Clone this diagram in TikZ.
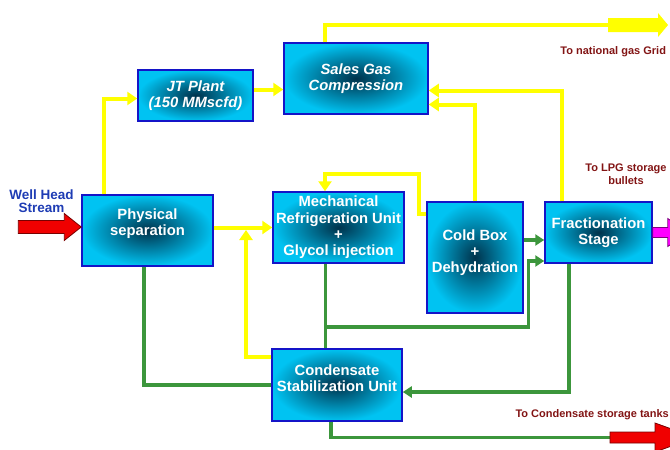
\documentclass[tikz,border=0pt]{standalone}
\usepackage{fontspec}
\setmainfont{Liberation Sans}
\usetikzlibrary{arrows.meta,positioning}
\definecolor{plblue}{RGB}{20,20,200}
\definecolor{plcyan}{RGB}{0,195,242}
\definecolor{pldark}{RGB}{0,50,75}
\definecolor{plyellow}{RGB}{255,255,0}
\definecolor{plgreen}{RGB}{60,150,60}
\definecolor{plred}{RGB}{240,0,0}
\definecolor{plbrown}{RGB}{130,20,20}
\definecolor{plnavy}{RGB}{30,60,180}
\definecolor{plmagenta}{RGB}{255,0,255}

\begin{document}
\begin{tikzpicture}[x=1pt,y=-1pt,
  unit/.style={draw=plblue, line width=1.5pt, inner color=pldark, outer color=plcyan,
    text=white, align=center, inner sep=1pt, font=\bfseries\fontsize{14.8}{16.3}\selectfont},
  unitit/.style={unit, font=\bfseries\itshape\fontsize{14.8}{16.3}\selectfont},
  gas/.style={plyellow, line width=4pt, -{Triangle[length=10pt,width=13pt]}},
  liq/.style={plgreen, line width=3.5pt, -{Triangle[length=9pt,width=11pt]}},
  note/.style={plbrown, font=\bfseries\fontsize{11}{13}\selectfont, align=center}]
  \useasboundingbox (0,0) rectangle (670,450);

  % Process units
  \node[unit, minimum width=131pt, minimum height=71pt, text depth=17pt] (phys) at (147.5,230.5) {Physical\\separation};
  \node[unitit, minimum width=115pt, minimum height=51pt] (jt) at (195.5,95.5) {JT Plant\\(150 MMscfd)};
  \node[unitit, minimum width=144pt, minimum height=71pt] (sales) at (356,78.5) {Sales Gas\\Compression};
  \node[unit, minimum width=131pt, minimum height=71pt] (mech) at (338.5,227.5) {Mechanical\\Refrigeration Unit\\+\\Glycol injection};
  \node[unit, minimum width=96pt, minimum height=111pt, text depth=13pt] (cold) at (475,257.5) {Cold Box\\+\\Dehydration};
  \node[unit, minimum width=107pt, minimum height=61pt] (frac) at (598.5,232.5) {Fractionation\\Stage};
  \node[unit, minimum width=130pt, minimum height=72pt, text depth=14pt] (cond) at (337,385) {Condensate\\Stabilization Unit};

  % Labels
  \node[plnavy, font=\bfseries\fontsize{13.5}{13}\selectfont, align=center] (well) at (41.5,201) {Well Head\\Stream};
  \node[note, anchor=east] (grid) at (669.5,52) {To national gas Grid};
  \node[note] (lpg) at (626,174) {To LPG storage\\bullets};
  \node[note, anchor=west] (tanks) at (512,415) {To Condensate storage tanks};

  % Feed and product arrows
  \filldraw[fill=plred, draw=plred!50!black, line width=0.8pt] ([yshift=3.5pt]phys.west) -- ++(-17,-13.5) -- ++(0,7) -- ++(-46,0) -- ++(0,13) -- ++(46,0) -- ++(0,7) -- cycle;
  \coordinate (togrid) at (608,25);
  \draw[gas, -] ([xshift=-31pt]sales.north) |- (togrid);
  \fill[plyellow] (togrid) ++(0,-7) -- ++(50,0) -- ++(0,-5) -- ++(10,12) -- ++(-10,12) -- ++(0,-5) -- ++(-50,0) -- cycle;
  \coordinate (totanks) at (610,437.5);
  \draw[liq, -] ([xshift=-6pt]cond.south) |- (totanks);
  \filldraw[fill=plred, draw=plred!50!black, line width=0.8pt] (totanks) ++(0,-5.5) -- ++(45,0) -- ++(0,-9) -- ++(40,14.5) -- ++(-40,14.5) -- ++(0,-9) -- ++(-45,0) -- cycle;
  \filldraw[fill=plmagenta, draw=plmagenta!50!black, line width=0.8pt] ([yshift=5pt]frac.east) -- ++(15,0) -- ++(0,-9) -- ++(20,14) -- ++(-20,14) -- ++(0,-9) -- ++(-15,0) -- cycle;

  % Gas lines
  \draw[gas] ([xshift=-44pt]phys.north) |- ([yshift=-3pt]jt.west);
  \draw[gas] ([yshift=6pt]jt.east) -- ([yshift=6pt]jt.east -| sales.west);
  \draw[gas] (cold.north) |- ([yshift=-26pt]sales.east);
  \draw[gas] ([xshift=-37pt]frac.north) |- ([yshift=-12pt]sales.east);
  \draw[gas] (phys.east |- mech.west) -- (mech.west);
  \coordinate (tee) at (246,230);
  \draw[gas] ([yshift=28pt]cond.west) -| (tee);
  \draw[gas] ([yshift=-13pt]cold.north west) -- ++(-7,0) -- ++(0,-40) -| ([xshift=-13.5pt]mech.north);

  % Liquid lines
  \draw[liq, -] ([xshift=-3.5pt]phys.south) |- (cond.west);
  \draw[liq, -] ([xshift=-13pt]mech.south) -- ([xshift=-13pt]mech.south |- cond.north);
  \coordinate (split) at (325.5,327);
  \draw[liq] (split) -| ([xshift=-16pt,yshift=-28.5pt]frac.west) -- ([yshift=-28.5pt]frac.west);
  \draw[liq] ([yshift=-7.5pt]frac.west -| cold.east) -- ([yshift=-7.5pt]frac.west);
  \draw[liq] ([xshift=-29.5pt]frac.south) |- ([yshift=-7pt]cond.east);
\end{tikzpicture}
\end{document}
